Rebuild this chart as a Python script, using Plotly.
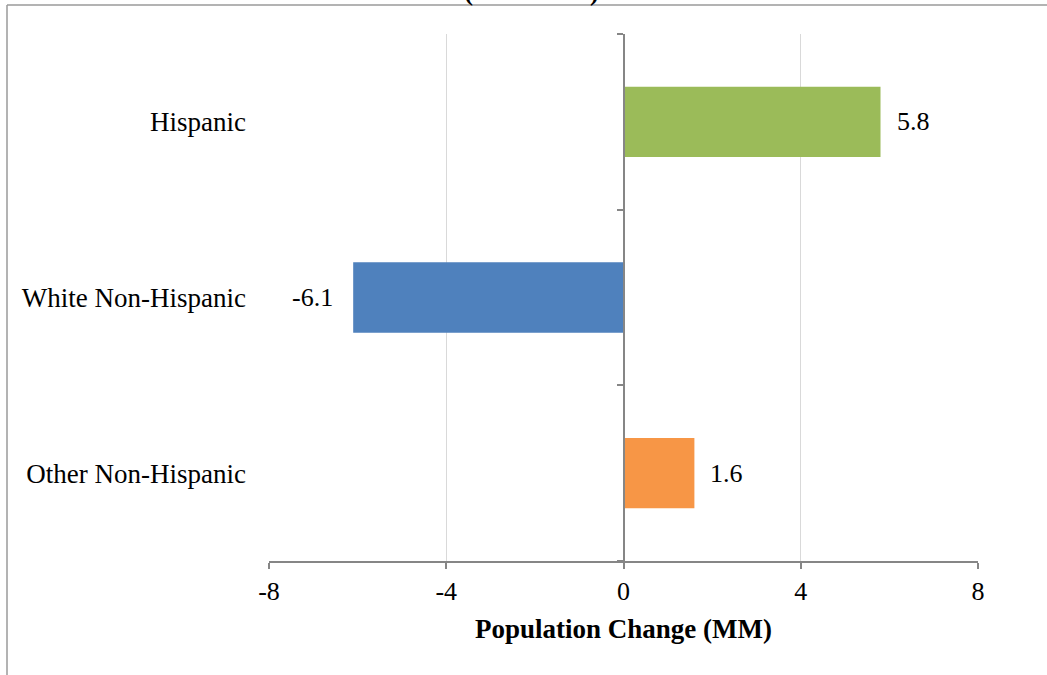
import plotly.graph_objects as go

categories = ["Other Non-Hispanic", "White Non-Hispanic", "Hispanic"]
values = [1.6, -6.1, 5.8]
bar_colors = ["#F79646", "#4F81BD", "#9BBB59"]
x_ticks = [-8, -4, 0, 4, 8]
x_title = "Population Change (MM)"
title_fragment = "(2000-2010)"

W, H = 1047, 675
ml, mr, mt, mb = 269, 69, 34, 114
pw, ph = W - ml - mr, H - mt - mb

def px_x(p):
    return (p - ml) / pw

def px_y(p):
    return (H - mb - p) / ph

FONT = "Liberation Serif, Times New Roman, serif"

fig = go.Figure()
fig.add_trace(go.Bar(
    y=categories, x=values, orientation="h",
    marker=dict(color=bar_colors, line=dict(width=0)),
    width=0.4, showlegend=False, hoverinfo="skip",
))
# invisible trace to carry the centered value axis
fig.add_trace(go.Scatter(x=[0], y=[0], yaxis="y2", mode="none",
                         showlegend=False, hoverinfo="skip"))

for c, v in zip(categories, values):
    fig.add_annotation(
        x=v, y=c, text=f"{v:.1f}", showarrow=False,
        xanchor="left" if v >= 0 else "right",
        xshift=14 if v >= 0 else -18,
        font=dict(family=FONT, size=26, color="#000000"),
    )

fig.update_layout(
    width=W, height=H,
    margin=dict(l=ml, r=mr, t=mt, b=mb, pad=0),
    paper_bgcolor="white", plot_bgcolor="white",
    font=dict(family=FONT, size=26, color="#000000"),
    xaxis=dict(
        range=[-8, 8], tickvals=x_ticks, ticktext=[str(t) for t in x_ticks],
        showgrid=True, gridcolor="#D9D9D9", gridwidth=1,
        zeroline=False, showline=True, linecolor="#868686", linewidth=1.5,
        ticks="outside", ticklen=6, tickcolor="#868686", tickwidth=1.5,
        title=dict(text=f"<b>{x_title}</b>", standoff=14,
                   font=dict(family=FONT, size=27)),
        tickfont=dict(family=FONT, size=26),
        fixedrange=True,
    ),
    yaxis=dict(
        type="category", categoryorder="array", categoryarray=categories,
        range=[-0.5, 2.5], showgrid=False, zeroline=False, showline=False,
        ticks="", ticklabelstandoff=22,
        tickfont=dict(family=FONT, size=27),
        fixedrange=True,
    ),
    yaxis2=dict(
        overlaying="y", anchor="free", position=0.5, side="left",
        range=[-0.5, 2.5], tickvals=[-0.5, 0.5, 1.5, 2.5],
        showticklabels=False, showgrid=False, zeroline=False,
        showline=True, linecolor="#868686", linewidth=1.5,
        ticks="outside", ticklen=6, tickcolor="#868686", tickwidth=1.5,
        fixedrange=True,
    ),
    shapes=[
        dict(type="line", xref="paper", yref="paper",
             x0=px_x(7), x1=px_x(7), y0=px_y(H + 10), y1=px_y(5),
             line=dict(color="#9A9A9A", width=1.5)),
        dict(type="line", xref="paper", yref="paper",
             x0=px_x(7), x1=px_x(W + 10), y0=px_y(5), y1=px_y(5),
             line=dict(color="#9A9A9A", width=1.5)),
    ],
)

fig.add_annotation(
    xref="paper", yref="paper", x=px_x(531), y=px_y(8),
    xanchor="center", yanchor="bottom", showarrow=False,
    text=f"<b>{title_fragment}</b>",
    font=dict(family=FONT, size=27, color="#000000"),
)

fig.write_html("out.html")
